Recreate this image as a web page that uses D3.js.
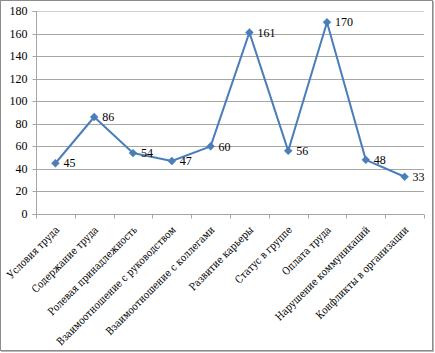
<!DOCTYPE html>
<html><head><meta charset="utf-8">
<script src="https://cdn.jsdelivr.net/npm/d3@7"></script>
<style>html,body{margin:0;padding:0;background:#fff;}svg{display:block;}</style>
</head><body>
<svg id="c" width="435" height="353"></svg>
<script>
const categories = ["Условия труда","Содержание труда","Ролевая принадлежность","Взаимоотношение с руководством","Взаимоотношение с коллегами","Развитие карьеры","Статус в группе","Оплата труда","Нарушение коммуникаций","Конфликты в организации"];
const values = [45,86,54,47,60,161,56,170,48,33];
const yTicks = [0,20,40,60,80,100,120,140,160,180];

const svg = d3.select("#c");
const numFont = "'Liberation Serif','Times New Roman',serif";
const cyrFont = "'DejaVu Serif',serif";
// outer frame
svg.append("rect").attr("x",0.5).attr("y",0.5).attr("width",432).attr("height",350)
  .attr("fill","#fff").attr("stroke","#8c8c8c").attr("stroke-width",1);
svg.append("line").attr("x1",433.5).attr("x2",433.5).attr("y1",1).attr("y2",352).attr("stroke","#b8b8b8");
svg.append("line").attr("x1",1).attr("x2",434).attr("y1",351.5).attr("y2",351.5).attr("stroke","#b8b8b8");

const L=36,R=424,T=11,B=214;
const x = d3.scaleBand().domain(categories).range([L,R]);
const y = d3.scaleLinear().domain([0,180]).range([B,T]);

// gridlines
svg.append("g").selectAll("line").data(yTicks.filter(d=>d>0)).join("line")
  .attr("x1",L).attr("x2",R).attr("y1",d=>Math.round(y(d))+0.5).attr("y2",d=>Math.round(y(d))+0.5)
  .attr("stroke",d=>d===180?"#d0d0d0":"#a6a6a6").attr("stroke-width",1);

// y axis
const yAxis = d3.axisLeft(y).tickValues(yTicks).tickSize(4).tickPadding(5);
const gy = svg.append("g").attr("transform",`translate(${L+0.5},0.5)`).call(yAxis);
gy.select(".domain").attr("stroke","#a6a6a6").attr("d",`M-4,${Math.round(T)}H0V${Math.round(B)}H-4`);
gy.selectAll(".tick line").attr("stroke","#a6a6a6");
gy.selectAll(".tick").attr("transform",d=>`translate(0,${Math.round(y(d))})`);
gy.selectAll("text").attr("font-family",numFont).attr("font-size","12px").attr("fill","#000");

// x axis
const xAxis = d3.axisBottom(x).tickSize(0).tickFormat("");
const gx = svg.append("g").attr("transform",`translate(0,${Math.round(B)+0.5})`).call(xAxis);
gx.select(".domain").attr("stroke","#a6a6a6").attr("d",`M${L},0H${R}`);
const edges = categories.map(c=>x(c)).concat([R]);
gx.selectAll(".edge").data(edges).join("line").attr("class","edge")
  .attr("x1",d=>Math.round(d)+0.5).attr("x2",d=>Math.round(d)+0.5).attr("y1",0).attr("y2",4).attr("stroke","#a6a6a6");

// category labels (serif Cyrillic, fitted to Times-like width)
const labs = svg.append("g").selectAll("text").data(categories).join("text")
  .attr("transform",d=>`translate(${x(d)+x.bandwidth()/2+2},${B+14}) rotate(-45)`)
  .attr("text-anchor","end").attr("dy","0.35em")
  .attr("font-family",cyrFont).attr("font-size","10.5px").attr("fill","#000")
  .text(d=>d);
labs.each(function(){
  const w = this.getComputedTextLength();
  d3.select(this).attr("textLength", w*0.85).attr("lengthAdjust","spacingAndGlyphs");
});

// line
const pts = categories.map((c,i)=>({c,v:values[i]}));
const line = d3.line().x(d=>x(d.c)+x.bandwidth()/2).y(d=>y(d.v));
svg.append("path").datum(pts).attr("d",line).attr("fill","none")
  .attr("stroke","#4a7ebb").attr("stroke-width",2).attr("stroke-linejoin","round");
svg.append("g").selectAll("path").data(pts).join("path")
  .attr("d",d3.symbol(d3.symbolDiamond2,40)())
  .attr("transform",d=>`translate(${x(d.c)+x.bandwidth()/2},${y(d.v)})`)
  .attr("fill","#4a7ebb").attr("stroke","#4a7ebb").attr("stroke-width",0.5);

// data labels
svg.append("g").selectAll("text").data(pts).join("text")
  .attr("x",d=>x(d.c)+x.bandwidth()/2+8).attr("y",d=>y(d.v)).attr("dy","0.35em")
  .attr("font-family",numFont).attr("font-size","12px").attr("fill","#000")
  .text(d=>d.v);
</script>
</body></html>
